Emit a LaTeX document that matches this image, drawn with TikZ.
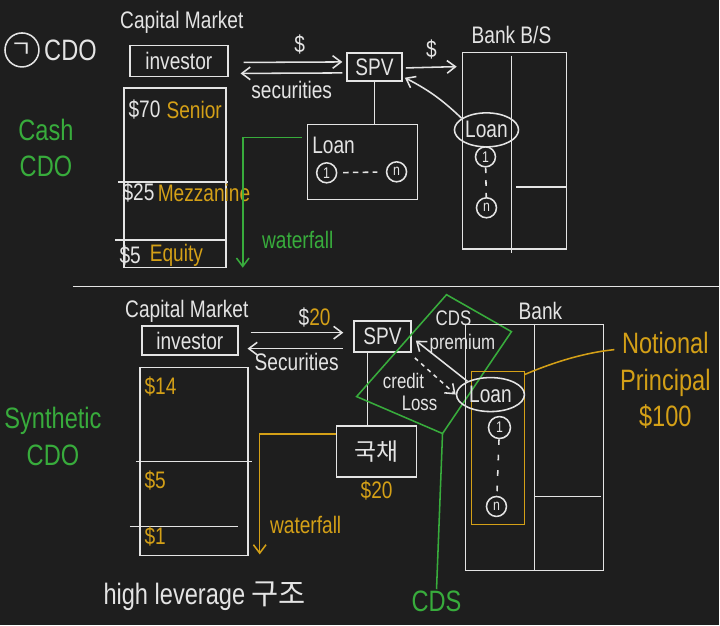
\documentclass[tikz,border=0pt]{standalone}
\usepackage{fontspec}
\setmainfont{Liberation Sans}[FakeStretch=0.8]
\newfontfamily\krfont{Noto Sans CJK KR}
\usetikzlibrary{positioning,shapes.geometric,arrows.meta,calc}
\definecolor{board}{HTML}{1E1E1E}
\definecolor{chalk}{HTML}{E4E4E4}
\definecolor{amber}{HTML}{D4A017}
\definecolor{leaf}{HTML}{38AC3C}
\tikzset{
  pen/.style={draw=chalk, line width=1.1pt},
  goldpen/.style={draw=amber, line width=1.1pt},
  grnpen/.style={draw=leaf, line width=1.1pt},
  lbl/.style={text=chalk, font=\fontsize{17}{19}\selectfont, inner sep=1pt},
  goldlbl/.style={lbl, text=amber},
  grnlbl/.style={lbl, text=leaf},
  bigtxt/.style={font=\fontsize{21}{26}\selectfont},
  smalltxt/.style={font=\fontsize{15}{17}\selectfont},
  boxnode/.style={pen, lbl, rectangle, inner sep=2pt},
  loannum/.style={pen, circle, text=chalk, font=\fontsize{11}{12}\selectfont, inner sep=0pt, minimum size=0.5cm}
}
\begin{document}
\begin{tikzpicture}[x=0.025cm, y=-0.025cm, >={Straight Barb[length=6pt,width=9pt]}]
    \fill[board] (0,0) rectangle (720,626);

    % Title
    \node[pen, circle, lbl, minimum size=0.85cm] (num) at (22,50) {\krfont ㄱ};
    \node[lbl, bigtxt, right=2pt of num] (cdo) {CDO};
    \node[grnlbl, bigtxt, align=center] (cash) at (46,148) {Cash\\CDO};

    % Cash CDO: capital market
    \node[lbl] (cm1) at (182,22) {Capital Market};
    \node[boxnode, minimum width=2.45cm, minimum height=0.78cm] (inv1) at (179,61) {investor};
    \draw[pen] (124,88) rectangle (226,268);
    \draw[pen] (118,182) -- (228,182);
    \draw[pen] (115,240) -- (226,240);
    \node[lbl, anchor=west] (s70) at (127,110) {\$70};
    \node[goldlbl, right=2pt of s70] (senior) {Senior};
    \node[lbl, anchor=west] (s25) at (121,193) {\$25};
    \node[goldlbl, right=0pt of s25] (mezz) {Mezzanine};
    \node[lbl, anchor=west] (s5) at (118,256) {\$5};
    \node[goldlbl, right=4pt of s5] (equity) {Equity};

    % SPV and loan pool
    \node[boxnode, minimum width=1.375cm, minimum height=0.7cm] (spv1) at (375,67) {SPV};
    \draw[pen, ->] ($(inv1.east)+(15,1.5)$) -- ($(spv1.west)+(-4,-5)$);
    \draw[pen, <-] ($(inv1.east)+(12,12.5)$) -- ($(spv1.west)+(-4,6)$);
    \node[lbl] (usd1) at (300,45) {\$};
    \node[lbl] (sec1) at (292,90) {securities};
    \node[pen, rectangle, minimum width=2.75cm, minimum height=1.875cm] (loan1) at (363,162) {};
    \draw[pen] (spv1.south) -- (spv1.south |- loan1.north);
    \node[lbl, anchor=west] (loantxt) at (311,146) {Loan};
    \node[loannum] (la1) at (327,173) {1};
    \node[loannum] (ln1) at (397,172) {n};
    \draw[pen, dash pattern=on 4pt off 3pt, shorten <=4pt, shorten >=6pt] (la1) -- (ln1);

    % waterfall
    \coordinate (wf1) at (243,268);
    \draw[grnpen, ->] ($(loan1.north west)+(-5,14)$) -| (wf1);
    \node[grnlbl] (wft1) at (298,240) {waterfall};

    % Bank balance sheet
    \node[pen, rectangle, minimum width=2.6cm, minimum height=4.925cm] (bank1) at (515,151) {};
    \node[lbl] (bs1) at (512,35) {Bank B/S};
    \draw[pen] ($(bank1.north)+(-3,4)$) -- ($(bank1.south)+(-3,3)$);
    \draw[pen] ($(bank1.south)+(2,-63)$) -- ($(bank1.south east)+(0,-63)$);
    \draw[pen, ->] ($(spv1.east)+(3,1)$) -- ($(bank1.north west)+(-5,15)$);
    \node[lbl] (usd2) at (432,50) {\$};
    \node[pen, ellipse, lbl, minimum width=1.35cm, minimum height=0.85cm] (bl1) at (487,130) {Loan};
    \node[loannum] (ba1) at (486,157) {1};
    \node[loannum] (bn1) at (487,208) {n};
    \draw[pen, dash pattern=on 4pt off 5pt] (ba1) -- (bn1);
    \draw[pen, ->] (bl1.155) to[bend right=8] ($(spv1.south east)+(2,-4)$);

    \draw[pen] (73,287) -- (720,287);

    % Synthetic CDO: capital market
    \node[grnlbl, bigtxt, align=center] (synth) at (53,437) {Synthetic\\CDO};
    \node[lbl] (cm2) at (187,312) {Capital Market};
    \node[boxnode, minimum width=2.4cm, minimum height=0.725cm] (inv2) at (190,341) {investor};
    \draw[pen] (140,368) rectangle (248,556);
    \draw[pen] (136,462) -- (252,462);
    \draw[pen] (130,527) -- (238,527);
    \node[goldlbl, anchor=west] (t14) at (143,387) {\$14};
    \node[goldlbl, anchor=west] (t5) at (143,481) {\$5};
    \node[goldlbl, anchor=west] (t1) at (143,537) {\$1};
    \node[lbl, bigtxt] (lev) at (205,597) {high leverage {\krfont 구조}};

    % SPV and government bonds
    \node[boxnode, minimum width=1.425cm, minimum height=0.775cm] (spv2) at (383,337) {SPV};
    \draw[pen, ->] ($(inv2.east)+(12,-8)$) -- ($(spv2.west)+(-10,-4)$);
    \draw[pen, <-] ($(inv2.east)+(9,8)$) -- ($(spv2.west)+(-10,12)$);
    \node[lbl] (usd3) at (315,318) {\$\textcolor{amber}{20}};
    \node[lbl] (sec2) at (297,362) {Securities};
    \node[boxnode, minimum width=2cm, minimum height=1.275cm] (gb) at (377,452) {\krfont 국채};
    \coordinate (spvleg) at ($(spv2.south)+(-15,0)$);
    \draw[pen] (spvleg) -- (spvleg |- gb.north);
    \node[goldlbl, below=1pt of gb] (gb20) {\$20};
    \coordinate (wf2) at (260,555);
    \draw[goldpen, ->] ($(gb.north west)+(0,9)$) -| (wf2);
    \node[goldlbl] (wft2) at (306,526) {waterfall};

    % CDS
    \coordinate (cdsT) at (447,295);
    \coordinate (cdsR) at (512,332);
    \coordinate (cdsB) at (443,434);
    \coordinate (cdsL) at (357,397);
    \draw[grnpen] (cdsT) -- (cdsR) -- (cdsB) -- (cdsL) -- cycle;
    \node[grnlbl, bigtxt] (cdslbl) at (437,602) {CDS};
    \draw[grnpen] (cdsB) -- (cdslbl.north);
    \node[lbl, smalltxt] (cdsp) at (454,319) {CDS};
    \node[lbl, smalltxt] (prem) at (463,344) {premium};
    \node[lbl, smalltxt] (cred) at (404,381) {credit};
    \node[lbl, smalltxt] (loss) at (420,404) {Loss};

    % Bank
    \node[pen, rectangle, minimum width=3.45cm, minimum height=6.15cm] (bank2) at (535,448) {};
    \node[lbl] (bk2) at (541,311) {Bank};
    \draw[pen] (bank2.north) -- (bank2.south);
    \draw[pen] ($(bank2.south)+(0,-75)$) -- ($(bank2.south east)+(-3,-75)$);
    \draw[goldpen] (472,372) rectangle (525,525);
    \node[pen, ellipse, lbl, minimum width=1.7cm, minimum height=0.85cm] (bl2) at (491,395) {Loan};
    \node[loannum, minimum size=0.55cm] (ba2) at (500,428) {1};
    \node[loannum] (bn2) at (497,507) {n};
    \draw[pen, dash pattern=on 4pt off 7pt] (ba2) -- (bn2);
    \draw[pen, ->] (bl2.150) -- ($(spv2.east)+(4,4)$);
    \draw[pen, dashed, ->] ($(spv2.south east)+(3,5)$) -- (bl2.west);

    % notional
    \node[goldlbl, bigtxt, align=center] (np) at (666,381) {Notional\\Principal\\\$100};
    \coordinate (npin) at ($(np.west)+(-4,-31)$);
    \draw[goldpen] (525,375) .. controls (565,358) and (595,352) .. (npin);
\end{tikzpicture}
\end{document}
